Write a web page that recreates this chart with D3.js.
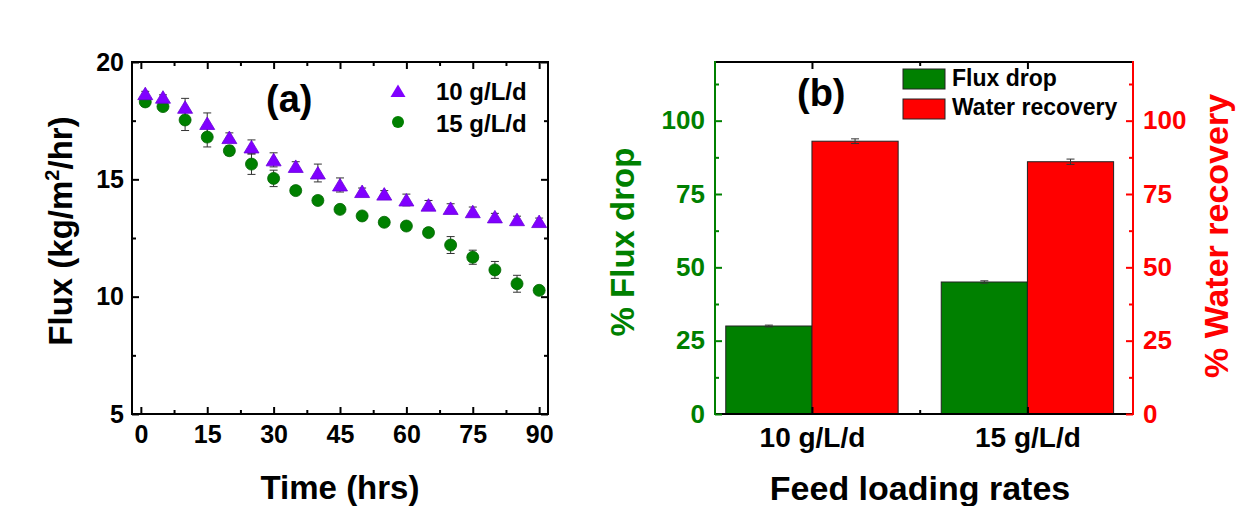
<!DOCTYPE html>
<html>
<head>
<meta charset="utf-8">
<script src="https://cdn.jsdelivr.net/npm/d3@7"></script>
<style>
  html, body { margin: 0; padding: 0; background: #fff; }
  svg { display: block; font-family: "Liberation Sans", Arial, sans-serif; font-weight: bold; }
</style>
</head>
<body>
<svg id="chart" width="1248" height="506"></svg>
<script>
// ---- Panel (a): flux decline over time ----
const time = [1, 5, 10, 15, 20, 25, 30, 35, 40, 45, 50, 55, 60, 65, 70, 75, 80, 85, 90];
const flux10 = [18.65, 18.5, 18.07, 17.38, 16.78, 16.38, 15.83, 15.55, 15.27, 14.76, 14.48, 14.37, 14.12, 13.9, 13.76, 13.62, 13.4, 13.28, 13.2];
const err10 = [0.1, 0.1, 0.38, 0.45, 0.2, 0.3, 0.3, 0.2, 0.38, 0.3, 0.15, 0.15, 0.25, 0.2, 0.2, 0.2, 0.15, 0.15, 0.15];
const flux15 = [18.3, 18.1, 17.53, 16.8, 16.22, 15.65, 15.04, 14.52, 14.1, 13.72, 13.44, 13.17, 13.01, 12.73, 12.2, 11.68, 11.14, 10.55, 10.27];
const err15 = [0.1, 0.1, 0.45, 0.42, 0.2, 0.44, 0.35, 0.15, 0.15, 0.12, 0.1, 0.1, 0.1, 0.15, 0.36, 0.3, 0.36, 0.36, 0.12];
const seriesNames = ["10 g/L/d", "15 g/L/d"];
const timeTicks = [0, 15, 30, 45, 60, 75, 90];
const fluxTicks = [5, 10, 15, 20];

// ---- Panel (b): flux drop and water recovery per loading rate ----
const categories = ["10 g/L/d", "15 g/L/d"];
const fluxDrop = [30, 45];
const fluxDropErr = [0.3, 0.4];
const waterRecovery = [93, 86];
const waterRecoveryErr = [0.8, 0.9];
const barSeries = ["Flux drop", "Water recovery"];
const pctTicks = [0, 25, 50, 75, 100];

const svg = d3.select("#chart");
const INK = "#000";
const PURPLE = "#8000ff";
const GREEN = "#008000";
const RED = "#ff0000";

function styleAxis(g, color, fontSize) {
  g.select(".domain").remove();
  g.selectAll(".tick line").attr("stroke", color).attr("stroke-width", 2);
  g.selectAll(".tick text").attr("fill", color)
    .style("font-family", "'Liberation Sans', Arial, sans-serif")
    .style("font-weight", "bold").style("font-size", fontSize + "px");
}

// ================= Panel (a) =================
const a = { left: 132, right: 548, top: 62, bottom: 414 };
const xA = d3.scaleLinear().domain([-2, 92]).range([a.left, a.right]);
const yA = d3.scaleLinear().domain([5, 20]).range([a.bottom, a.top]);
const gA = svg.append("g");

const minorTime = d3.range(0, 91, 7.5).filter(v => !timeTicks.includes(v));
const minorFlux = d3.range(5, 20.01, 2.5).filter(v => !fluxTicks.includes(v));

// bottom axis with labels, ticks pointing inward
gA.append("g").attr("transform", `translate(0,${a.bottom})`)
  .call(d3.axisBottom(xA).tickValues(timeTicks).tickSizeInner(-7).tickSizeOuter(0).tickPadding(11))
  .call(g => styleAxis(g, INK, 25));
gA.append("g").attr("transform", `translate(0,${a.bottom})`)
  .call(d3.axisBottom(xA).tickValues(minorTime).tickSizeInner(-4).tickSizeOuter(0).tickFormat(""))
  .call(g => styleAxis(g, INK, 25));
// top axis
gA.append("g").attr("transform", `translate(0,${a.top})`)
  .call(d3.axisTop(xA).tickValues(timeTicks).tickSizeInner(-7).tickSizeOuter(0).tickFormat(""))
  .call(g => styleAxis(g, INK, 25));
gA.append("g").attr("transform", `translate(0,${a.top})`)
  .call(d3.axisTop(xA).tickValues(minorTime).tickSizeInner(-4).tickSizeOuter(0).tickFormat(""))
  .call(g => styleAxis(g, INK, 25));
// left axis
gA.append("g").attr("transform", `translate(${a.left},0)`)
  .call(d3.axisLeft(yA).tickValues(fluxTicks).tickSizeInner(-7).tickSizeOuter(0).tickPadding(8))
  .call(g => styleAxis(g, INK, 25));
gA.append("g").attr("transform", `translate(${a.left},0)`)
  .call(d3.axisLeft(yA).tickValues(minorFlux).tickSizeInner(-4).tickSizeOuter(0).tickFormat(""))
  .call(g => styleAxis(g, INK, 25));
// right axis
gA.append("g").attr("transform", `translate(${a.right},0)`)
  .call(d3.axisRight(yA).tickValues(fluxTicks).tickSizeInner(-7).tickSizeOuter(0).tickFormat(""))
  .call(g => styleAxis(g, INK, 25));
gA.append("g").attr("transform", `translate(${a.right},0)`)
  .call(d3.axisRight(yA).tickValues(minorFlux).tickSizeInner(-4).tickSizeOuter(0).tickFormat(""))
  .call(g => styleAxis(g, INK, 25));

gA.append("rect").attr("x", a.left).attr("y", a.top)
  .attr("width", a.right - a.left).attr("height", a.bottom - a.top)
  .attr("fill", "none").attr("stroke", INK).attr("stroke-width", 2);

// error bars
function errorBars(g, xs, ys, es, xScale, yScale) {
  const eb = g.append("g").attr("stroke", "#333").attr("stroke-width", 1);
  xs.forEach((t, i) => {
    const x = xScale(t), y1 = yScale(ys[i] - es[i]), y2 = yScale(ys[i] + es[i]);
    eb.append("line").attr("x1", x).attr("x2", x).attr("y1", y1).attr("y2", y2);
    eb.append("line").attr("x1", x - 4).attr("x2", x + 4).attr("y1", y1).attr("y2", y1);
    eb.append("line").attr("x1", x - 4).attr("x2", x + 4).attr("y1", y2).attr("y2", y2);
  });
}
errorBars(gA, time, flux15, err15, xA, yA);
errorBars(gA, time, flux10, err10, xA, yA);

const triPath = (cx, cy) => `M${cx},${cy - 6.5}L${cx + 7.5},${cy + 6}L${cx - 7.5},${cy + 6}Z`;

gA.append("g").selectAll("circle").data(time).join("circle")
  .attr("cx", (d) => xA(d)).attr("cy", (d, i) => yA(flux15[i])).attr("r", 6)
  .attr("fill", GREEN).attr("stroke", "#006400").attr("stroke-width", 0.8);
gA.append("g").selectAll("path").data(time).join("path")
  .attr("d", (d, i) => triPath(xA(d), yA(flux10[i])))
  .attr("fill", PURPLE).attr("stroke", "#6a00d8").attr("stroke-width", 0.8);

// legend (a)
gA.append("path").attr("d", triPath(398, 91)).attr("fill", PURPLE);
gA.append("circle").attr("cx", 398).attr("cy", 122).attr("r", 6).attr("fill", GREEN);
gA.append("text").attr("x", 436).attr("y", 100).attr("font-size", 24).attr("fill", INK).text(seriesNames[0]);
gA.append("text").attr("x", 436).attr("y", 132).attr("font-size", 24).attr("fill", INK).text(seriesNames[1]);

gA.append("text").attr("x", 266).attr("y", 112).attr("font-size", 38).attr("fill", INK).text("(a)");

// axis titles (a)
gA.append("text").attr("x", 340).attr("y", 499).attr("text-anchor", "middle")
  .attr("font-size", 33).attr("fill", INK).text("Time (hrs)");
const yTitleA = gA.append("text").attr("transform", "translate(72,231) rotate(-90)")
  .attr("text-anchor", "middle").attr("font-size", 33).attr("fill", INK);
yTitleA.append("tspan").text("Flux (kg/m");
yTitleA.append("tspan").attr("font-size", 20).attr("dy", -13).text("2");
yTitleA.append("tspan").attr("dy", 13).text("/hr)");

// ================= Panel (b) =================
const b = { left: 715, right: 1133, top: 62, bottom: 414 };
const xB = d3.scaleLinear().domain([0.55, 2.49]).range([b.left, b.right]);
const yL = d3.scaleLinear().domain([0, 120]).range([b.bottom, b.top]);
const yR = d3.scaleLinear().domain([0, 120]).range([b.bottom, b.top]);
const gB = svg.append("g");
const barW = xB(1.4) - xB(1.0);
const catPos = categories.map((c, i) => i + 1);
const minorPct = d3.range(12.5, 120, 25);

// bars
gB.append("g").selectAll("rect").data(categories).join("rect")
  .attr("x", (d, i) => xB(catPos[i]) - barW).attr("width", barW)
  .attr("y", (d, i) => yL(fluxDrop[i])).attr("height", (d, i) => yL(0) - yL(fluxDrop[i]))
  .attr("fill", GREEN).attr("stroke", "#222").attr("stroke-width", 1);
gB.append("g").selectAll("rect").data(categories).join("rect")
  .attr("x", (d, i) => xB(catPos[i])).attr("width", barW)
  .attr("y", (d, i) => yR(waterRecovery[i])).attr("height", (d, i) => yR(0) - yR(waterRecovery[i]))
  .attr("fill", RED).attr("stroke", "#222").attr("stroke-width", 1);

errorBars(gB, catPos.map(p => p - 0.2), fluxDrop, fluxDropErr, xB, yL);
errorBars(gB, catPos.map(p => p + 0.2), waterRecovery, waterRecoveryErr, xB, yR);

// frame: top and bottom black, left green, right red
gB.append("line").attr("x1", b.left).attr("x2", b.right).attr("y1", b.top).attr("y2", b.top).attr("stroke", INK).attr("stroke-width", 2);
gB.append("line").attr("x1", b.left).attr("x2", b.right).attr("y1", b.bottom).attr("y2", b.bottom).attr("stroke", INK).attr("stroke-width", 2);

// bottom category axis
gB.append("g").attr("transform", `translate(0,${b.bottom})`)
  .call(d3.axisBottom(xB).tickValues(catPos).tickFormat((d, i) => categories[i]).tickSizeInner(-7).tickSizeOuter(0).tickPadding(13))
  .call(g => styleAxis(g, INK, 28));
gB.append("g").attr("transform", `translate(0,${b.bottom})`)
  .call(d3.axisBottom(xB).tickValues([1.5]).tickSizeInner(-4).tickSizeOuter(0).tickFormat(""))
  .call(g => styleAxis(g, INK, 28));
gB.append("g").attr("transform", `translate(0,${b.top})`)
  .call(d3.axisTop(xB).tickValues(catPos).tickSizeInner(-7).tickSizeOuter(0).tickFormat(""))
  .call(g => styleAxis(g, INK, 28));
gB.append("g").attr("transform", `translate(0,${b.top})`)
  .call(d3.axisTop(xB).tickValues([1.5]).tickSizeInner(-4).tickSizeOuter(0).tickFormat(""))
  .call(g => styleAxis(g, INK, 28));

// left axis (green)
gB.append("g").attr("transform", `translate(${b.left},0)`)
  .call(d3.axisLeft(yL).tickValues(pctTicks).tickSizeInner(-7).tickSizeOuter(0).tickPadding(10))
  .call(g => styleAxis(g, GREEN, 26));
gB.append("g").attr("transform", `translate(${b.left},0)`)
  .call(d3.axisLeft(yL).tickValues(minorPct).tickSizeInner(-4).tickSizeOuter(0).tickFormat(""))
  .call(g => styleAxis(g, GREEN, 26));
gB.append("line").attr("x1", b.left).attr("x2", b.left).attr("y1", b.top - 1).attr("y2", b.bottom + 1).attr("stroke", GREEN).attr("stroke-width", 2);

// right axis (red)
gB.append("g").attr("transform", `translate(${b.right},0)`)
  .call(d3.axisRight(yR).tickValues(pctTicks).tickSizeInner(-7).tickSizeOuter(0).tickPadding(10))
  .call(g => styleAxis(g, RED, 26));
gB.append("g").attr("transform", `translate(${b.right},0)`)
  .call(d3.axisRight(yR).tickValues(minorPct).tickSizeInner(-4).tickSizeOuter(0).tickFormat(""))
  .call(g => styleAxis(g, RED, 26));
gB.append("line").attr("x1", b.right).attr("x2", b.right).attr("y1", b.top - 1).attr("y2", b.bottom + 1).attr("stroke", RED).attr("stroke-width", 2);

// legend (b)
const legB = gB.append("g");
[GREEN, RED].forEach((c, i) => {
  legB.append("rect").attr("x", 903).attr("y", 69 + i * 30).attr("width", 42).attr("height", 20)
    .attr("fill", c).attr("stroke", "#222").attr("stroke-width", 1);
  legB.append("text").attr("x", 952).attr("y", 86 + i * 29).attr("font-size", 23).attr("fill", INK).text(barSeries[i]);
});

gB.append("text").attr("x", 797).attr("y", 106).attr("font-size", 38).attr("fill", INK).text("(b)");

// axis titles (b)
gB.append("text").attr("x", 920).attr("y", 500).attr("text-anchor", "middle")
  .attr("font-size", 34).attr("fill", INK).text("Feed loading rates");
gB.append("text").attr("transform", "translate(634,242) rotate(-90)").attr("text-anchor", "middle")
  .attr("font-size", 33).attr("fill", GREEN).text("% Flux drop");
gB.append("text").attr("transform", "translate(1228,236) rotate(-90)").attr("text-anchor", "middle")
  .attr("font-size", 34).attr("fill", RED).text("% Water recovery");
</script>
</body>
</html>
